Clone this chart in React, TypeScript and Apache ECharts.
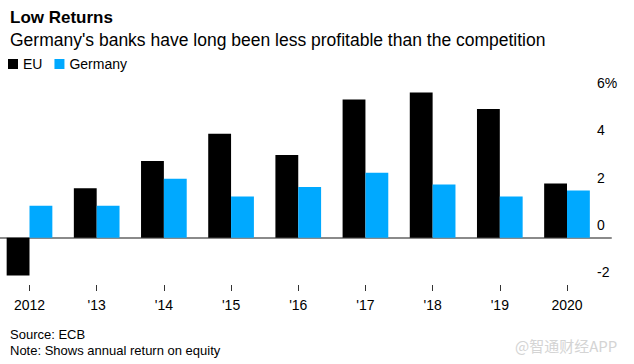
import React, { useEffect, useRef } from "react";
import * as echarts from "echarts";

const categories = ["2012", "'13", "'14", "'15", "'16", "'17", "'18", "'19", "2020"];
const euValues = [-1.6, 2.1, 3.25, 4.4, 3.5, 5.85, 6.15, 5.45, 2.3];
const germanyValues = [1.35, 1.35, 2.5, 1.75, 2.15, 2.75, 2.25, 1.75, 2.0];
const yMin = -2;
const yMax = 6;
const yStep = 2;

const FONT = "'Liberation Sans', Arial, Helvetica, sans-serif";

export default function App() {
  const ref = useRef<HTMLDivElement>(null);
  useEffect(() => {
    if (!ref.current) return;
    const chart = echarts.init(ref.current, null, { renderer: "svg" });
    chart.setOption({
      animation: false,
      backgroundColor: "#ffffff",
      textStyle: { fontFamily: FONT },
      title: [
        {
          text: "Low Returns",
          left: 5,
          top: 4,
          textStyle: { fontFamily: FONT, fontSize: 17, fontWeight: "bold", color: "#000" },
        },
        {
          text: "Germany's banks have long been less profitable than the competition",
          left: 5,
          top: 26,
          textStyle: { fontFamily: FONT, fontSize: 17.5, fontWeight: "normal", color: "#000" },
        },
        {
          text: "Source: ECB",
          left: 5,
          top: 323,
          textStyle: { fontFamily: FONT, fontSize: 13, fontWeight: "normal", color: "#000" },
        },
        {
          text: "Note: Shows annual return on equity",
          left: 5,
          top: 339,
          textStyle: { fontFamily: FONT, fontSize: 13, fontWeight: "normal", color: "#000" },
        },
        {
          text: "@智通财经APP",
          left: 510,
          top: 333,
          textStyle: { fontFamily: "'Noto Sans CJK SC', " + FONT, fontSize: 15, fontWeight: "normal", color: "#d4d4d4" },
        },
      ],
      legend: {
        left: 3,
        top: 52,
        itemWidth: 10,
        itemHeight: 10,
        itemGap: 12,
        icon: "rect",
        textStyle: { fontFamily: FONT, fontSize: 14, color: "#000" },
        data: ["EU", "Germany"],
      },
      grid: [
        { left: 29.5, right: 67, top: 96, bottom: 79, containLabel: false },
        { left: 0, right: 23, top: 96, bottom: 79, containLabel: false },
      ],
      xAxis: [
        {
          type: "category",
          gridIndex: 0,
          data: categories,
          boundaryGap: false,
          position: "bottom",
          axisLine: { show: false, onZero: false },
          axisTick: {
            show: true,
            length: 6,
            lineStyle: { color: "#333", width: 1 },
          },
          axisLabel: { color: "#000", fontSize: 14, margin: 13, fontFamily: FONT },
          splitLine: { show: false },
        },
        {
          type: "value",
          gridIndex: 1,
          min: 0,
          max: 1,
          axisLine: { show: true, onZero: true, lineStyle: { color: "#8a8a8a", width: 2 } },
          axisTick: { show: false },
          axisLabel: { show: false },
          splitLine: { show: false },
        },
      ],
      yAxis: [
        {
          type: "value",
          gridIndex: 0,
          min: yMin,
          max: yMax,
          interval: yStep,
          show: false,
        },
        {
          type: "value",
          gridIndex: 1,
          position: "right",
          min: yMin,
          max: yMax,
          interval: yStep,
          axisLine: { show: false },
          axisTick: { show: true, inside: true, length: 14, lineStyle: { color: "#8a8a8a", width: 2 } },
          splitLine: { show: false },
          axisLabel: {
            show: true,
            inside: true,
            margin: 14,
            align: "left",
            verticalAlign: "bottom",
            padding: [0, 0, 6, 0],
            color: "#000",
            fontSize: 14,
            fontFamily: FONT,
            formatter: (v: number) => (v === yMax ? v + "%" : String(v)),
          },
        },
      ],
      series: [
        {
          name: "EU",
          type: "bar",
          xAxisIndex: 0,
          yAxisIndex: 0,
          data: euValues,
          clip: false,
          itemStyle: { color: "#000000" },
          barGap: "0%",
          barCategoryGap: "32%",
        },
        {
          name: "Germany",
          type: "bar",
          xAxisIndex: 0,
          yAxisIndex: 0,
          data: germanyValues,
          clip: false,
          itemStyle: { color: "#00a9ff" },
          barGap: "0%",
          barCategoryGap: "32%",
        },
      ],
    });
    return () => chart.dispose();
  }, []);
  return (
    <div
      ref={ref}
      style={{ position: "absolute", left: 0, top: 0, width: 634, height: 364 }}
    />
  );
}
